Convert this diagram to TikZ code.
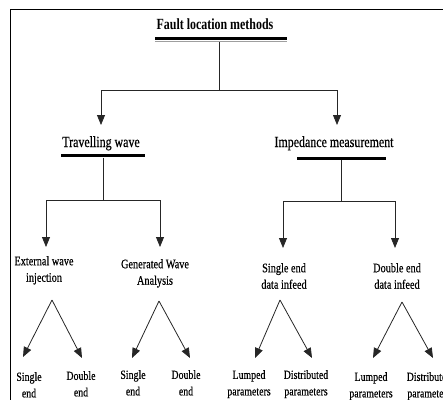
\documentclass[tikz,border=0pt]{standalone}
\usepackage{fontspec}
\setmainfont{Liberation Serif}
\newfontfamily\headfont{Liberation Serif}[FakeStretch=0.77,FakeBold=0.5]
\newfontfamily\titlefont{Liberation Serif Bold}[FakeStretch=0.77]
\newfontfamily\labelfont{Liberation Serif}[FakeStretch=0.79,FakeBold=0.4]
\usetikzlibrary{arrows.meta}

\begin{document}
\begin{tikzpicture}[x=1pt,y=-1pt,
  frame/.style={line width=1.4pt, draw=black},
  link/.style={line width=0.8pt, draw=black!85},
  arr/.style={link, -{Triangle[width=8pt,length=10pt]}},
  bar/.style={fill=black, inner sep=0pt, minimum height=3pt},
  head/.style={font=\headfont\fontsize{15.5}{18}\selectfont, inner sep=0pt, anchor=base},
  title/.style={font=\titlefont\fontsize{15.5}{18}\selectfont, inner sep=0pt, anchor=base},
  sub/.style={font=\labelfont\fontsize{13}{16.5}\selectfont, align=center, inner sep=0pt, anchor=north},
  leaf/.style={font=\labelfont\fontsize{12.5}{16.5}\selectfont, align=center, inner sep=0pt, anchor=north}]

\useasboundingbox (0,0) rectangle (443,399);
\clip (0,0) rectangle (443,399);

% outer frame
\draw[frame] (10.5,9.5) rectangle (470,430);

% ---- root ----
\node[title] (root) at (215,29) {Fault location methods};
\node[bar, minimum width=132pt, minimum height=3.5pt] (rootbar) at (221,38.5) {};
\draw[gray!75, line width=1.2pt] ([yshift=-1.4pt]rootbar.south west) -- ([yshift=-1.4pt]rootbar.south east);
\coordinate (rj) at (219,90);
\coordinate (rtop) at (219,42);
\draw[link] (rtop) -- (rj);

% ---- first level ----
\node[head] (tw) at (101,147) {Travelling wave};
\node[bar, minimum width=84pt] (twbar) at (103,155.8) {};
\node[head] (im) at (334,147) {Impedance measurement};
\node[bar, minimum width=89pt] (imbar) at (341,158) {};

\draw[arr] (rj) -| (tw.north |- 0,125);
\draw[arr] (rj) -| ([xshift=3pt]im.north |- 0,125);

% ---- second level ----
\node[sub] (ext) at (44,256) {External wave\\injection};
\node[sub] (gen) at (155,259) {Generated Wave\\Analysis};
\node[sub] (sed) at (284,263) {Single end\\data infeed};
\node[sub] (ded) at (397,263) {Double end\\data infeed};

\coordinate (tj) at (103,200);
\coordinate (ij) at (341,201.5);
\draw[link] (twbar.south) -- (tj);
\draw[link] (imbar.south) -- (ij);
\draw[arr] (tj) -| ([xshift=2pt]ext.north |- 0,247);
\draw[arr] (tj) -| ([xshift=5pt]gen.north |- 0,247);
\draw[arr] (ij) -| ([xshift=-1pt]sed.north |- 0,248);
\draw[arr] (ij) -| ([xshift=-2pt]ded.north |- 0,248);

% ---- third level ----
\node[leaf] (s1) at (29,372) {Single\\end};
\node[leaf] (d1) at (81,371) {Double\\end};
\node[leaf] (s2) at (133,370) {Single\\end};
\node[leaf] (d2) at (186,370) {Double\\end};
\node[leaf] (l1) at (249,370) {Lumped\\parameters};
\node[leaf] (di1) at (306,370) {Distributed\\parameters};
\node[leaf] (l2) at (371,372) {Lumped\\parameters};
\node[leaf] (di2) at (429,372) {Distributed\\parameters};

\coordinate (ea) at (52,300);
\coordinate (ga) at (159,301);
\coordinate (sa) at (280,300);
\coordinate (da) at (402,302);

\draw[arr] (ea) -- ([xshift=-6pt,yshift=15pt]s1.north);
\draw[arr] (ea) -- ([xshift=1pt,yshift=13pt]d1.north);
\draw[arr] (ga) -- ([xshift=-1pt,yshift=12pt]s2.north);
\draw[arr] (ga) -- ([xshift=4pt,yshift=12pt]d2.north);
\draw[arr] (sa) -- ([xshift=6pt,yshift=12pt]l1.north);
\draw[arr] (sa) -- ([xshift=6pt,yshift=12pt]di1.north);
\draw[arr] (da) -- ([xshift=2pt,yshift=14pt]l2.north);
\draw[arr] (da) -- ([xshift=4pt,yshift=14pt]di2.north);
\end{tikzpicture}
\end{document}
